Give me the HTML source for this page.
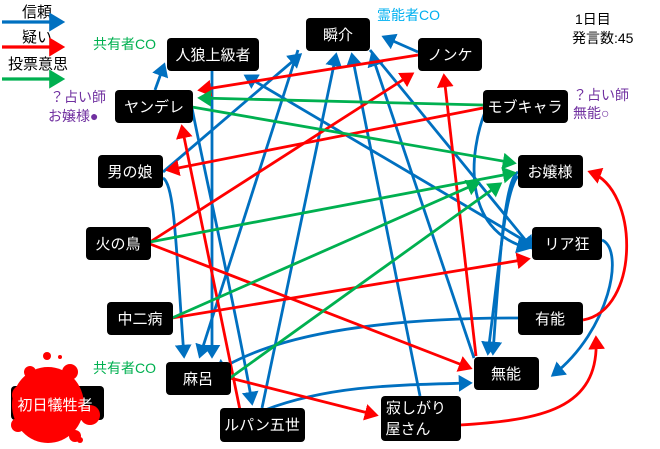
<!DOCTYPE html>
<html><head><meta charset="utf-8"><style>
html,body{margin:0;padding:0;background:#fff;}
svg text{font-family:"Liberation Sans","Noto Sans CJK JP",sans-serif;}
</style></head><body>
<svg width="660" height="444" viewBox="0 0 660 444" xmlns="http://www.w3.org/2000/svg">
<defs>
<marker id="b" markerWidth="6" markerHeight="6" refX="4" refY="3" orient="auto" markerUnits="strokeWidth"><path d="M0,0 L5,3 L0,6 z" fill="#0070C0"/></marker>
<marker id="r" markerWidth="6" markerHeight="6" refX="4" refY="3" orient="auto" markerUnits="strokeWidth"><path d="M0,0 L5,3 L0,6 z" fill="#FF0000"/></marker>
<marker id="g" markerWidth="6" markerHeight="6" refX="4" refY="3" orient="auto" markerUnits="strokeWidth"><path d="M0,0 L5,3 L0,6 z" fill="#00B050"/></marker>
</defs>
<!-- legend -->
<text x="22" y="17" font-size="15">信頼</text>
<line x1="2" y1="22" x2="62" y2="22" stroke="#0070C0" stroke-width="3.2" marker-end="url(#b)"/>
<text x="22" y="42" font-size="15">疑い</text>
<line x1="2" y1="47" x2="62" y2="47" stroke="#FF0000" stroke-width="3.2" marker-end="url(#r)"/>
<text x="8" y="69" font-size="15">投票意思</text>
<line x1="2" y1="79" x2="62" y2="79" stroke="#00B050" stroke-width="3.2" marker-end="url(#g)"/>

<g fill="none" stroke-width="2.8">
<g stroke="#0070C0" marker-end="url(#b)">
<line x1="155" y1="90" x2="164" y2="65"/>
<path d="M163,172 L300,55"/>
<line x1="418" y1="52" x2="384" y2="37"/>
<line x1="212" y1="71" x2="212" y2="356"/>
<path d="M163,178 C175,185 176,250 184,356"/>
<path d="M192,108 C200,150 240,330 252,403"/>
<path d="M532,245 L246,76"/>
<path d="M474,358 L372,55"/>
<path d="M262,408 L336,55"/>
<path d="M420,396 L352,55"/>
<path d="M370,50 L532,248"/>
<path d="M518,172 C505,180 500,250 493,353"/>
<path d="M518,176 C505,190 500,260 488,353"/>
<path d="M485,112 C470,150 460,230 528,248"/>
<path d="M602,240 C625,250 610,330 553,375"/>
<path d="M518,318 C400,318 280,330 216,372"/>
<path d="M265,410 C330,385 400,385 470,383"/>
<path d="M298,50 L200,356"/>
</g>
<g stroke="#FF0000" marker-end="url(#r)">
<line x1="418" y1="55" x2="200" y2="90"/>
<line x1="483" y1="108" x2="168" y2="170"/>
<line x1="150" y1="242" x2="412" y2="74"/>
<line x1="150" y1="244" x2="470" y2="368"/>
<line x1="172" y1="318" x2="528" y2="259"/>
<line x1="240" y1="410" x2="182" y2="127"/>
<line x1="476" y1="356" x2="444" y2="76"/>
<line x1="230" y1="378" x2="376" y2="415"/>
<path d="M460,425 C540,420 600,410 596,338"/>
<path d="M583,320 C640,310 640,190 590,172"/>
</g>
<g stroke="#00B050" marker-end="url(#g)">
<line x1="483" y1="105" x2="200" y2="98"/>
<line x1="192" y1="107" x2="514" y2="163"/>
<line x1="150" y1="242" x2="514" y2="173"/>
<line x1="172" y1="318" x2="478" y2="183"/>
<line x1="230" y1="378" x2="500" y2="184"/>
</g>
</g>

<!-- victim box + blood -->
<rect x="11" y="386" width="93" height="34" rx="4" fill="#000"/>
<g fill="#FF0000">
<ellipse cx="48" cy="405" rx="36" ry="38"/>
<circle cx="90" cy="415" r="10"/>
<circle cx="22" cy="395" r="10"/>
<circle cx="30" cy="372" r="6"/>
<circle cx="70" cy="372" r="8"/>
<circle cx="47" cy="356" r="4"/>
<circle cx="75" cy="436" r="6"/>
<circle cx="18" cy="425" r="7"/>
<circle cx="60" cy="357" r="2"/>
<circle cx="80" cy="440" r="3"/>
</g>

<g fill="#000">
<rect x="306" y="18" width="64" height="33" rx="4"/>
<rect x="167" y="38" width="92" height="33" rx="4"/>
<rect x="418" y="38" width="64" height="33" rx="4"/>
<rect x="115" y="90" width="78" height="33" rx="4"/>
<rect x="483" y="90" width="85" height="33" rx="4"/>
<rect x="98" y="155" width="65" height="33" rx="4"/>
<rect x="518" y="155" width="65" height="33" rx="4"/>
<rect x="86" y="227" width="65" height="33" rx="4"/>
<rect x="532" y="227" width="70" height="33" rx="4"/>
<rect x="107" y="302" width="66" height="33" rx="4"/>
<rect x="518" y="302" width="65" height="33" rx="4"/>
<rect x="166" y="362" width="65" height="33" rx="4"/>
<rect x="474" y="357" width="65" height="33" rx="4"/>
<rect x="220" y="408" width="85" height="34" rx="4"/>
<rect x="381" y="396" width="80" height="45" rx="4"/>
</g>
<g fill="#fff" font-size="15" text-anchor="middle">
<text x="338" y="40">瞬介</text>
<text x="213" y="60">人狼上級者</text>
<text x="450" y="60">ノンケ</text>
<text x="154" y="112">ヤンデレ</text>
<text x="525" y="112">モブキャラ</text>
<text x="130" y="177">男の娘</text>
<text x="550" y="177">お嬢様</text>
<text x="118" y="249">火の鳥</text>
<text x="567" y="249">リア狂</text>
<text x="140" y="324">中二病</text>
<text x="550" y="324">有能</text>
<text x="198" y="384">麻呂</text>
<text x="506" y="379">無能</text>
<text x="262" y="430">ルパン五世</text>
<text x="416" y="413">寂しがり</text>
<text x="408" y="434">屋さん</text>
<text x="55" y="410">初日犠牲者</text>
</g>
<g font-size="14">
<text x="93" y="49" fill="#00B050">共有者CO</text>
<text x="377" y="20" fill="#00B0F0">霊能者CO</text>
<text x="575" y="24" fill="#000">1日目</text>
<text x="572" y="43" fill="#000">発言数:45</text>
<text x="50" y="102" fill="#7030A0">？占い師</text>
<text x="48" y="121" fill="#7030A0">お嬢様●</text>
<text x="573" y="100" fill="#7030A0">？占い師</text>
<text x="573" y="118" fill="#7030A0">無能○</text>
<text x="93" y="373" fill="#00B050">共有者CO</text>
</g>
</svg>
</body></html>
